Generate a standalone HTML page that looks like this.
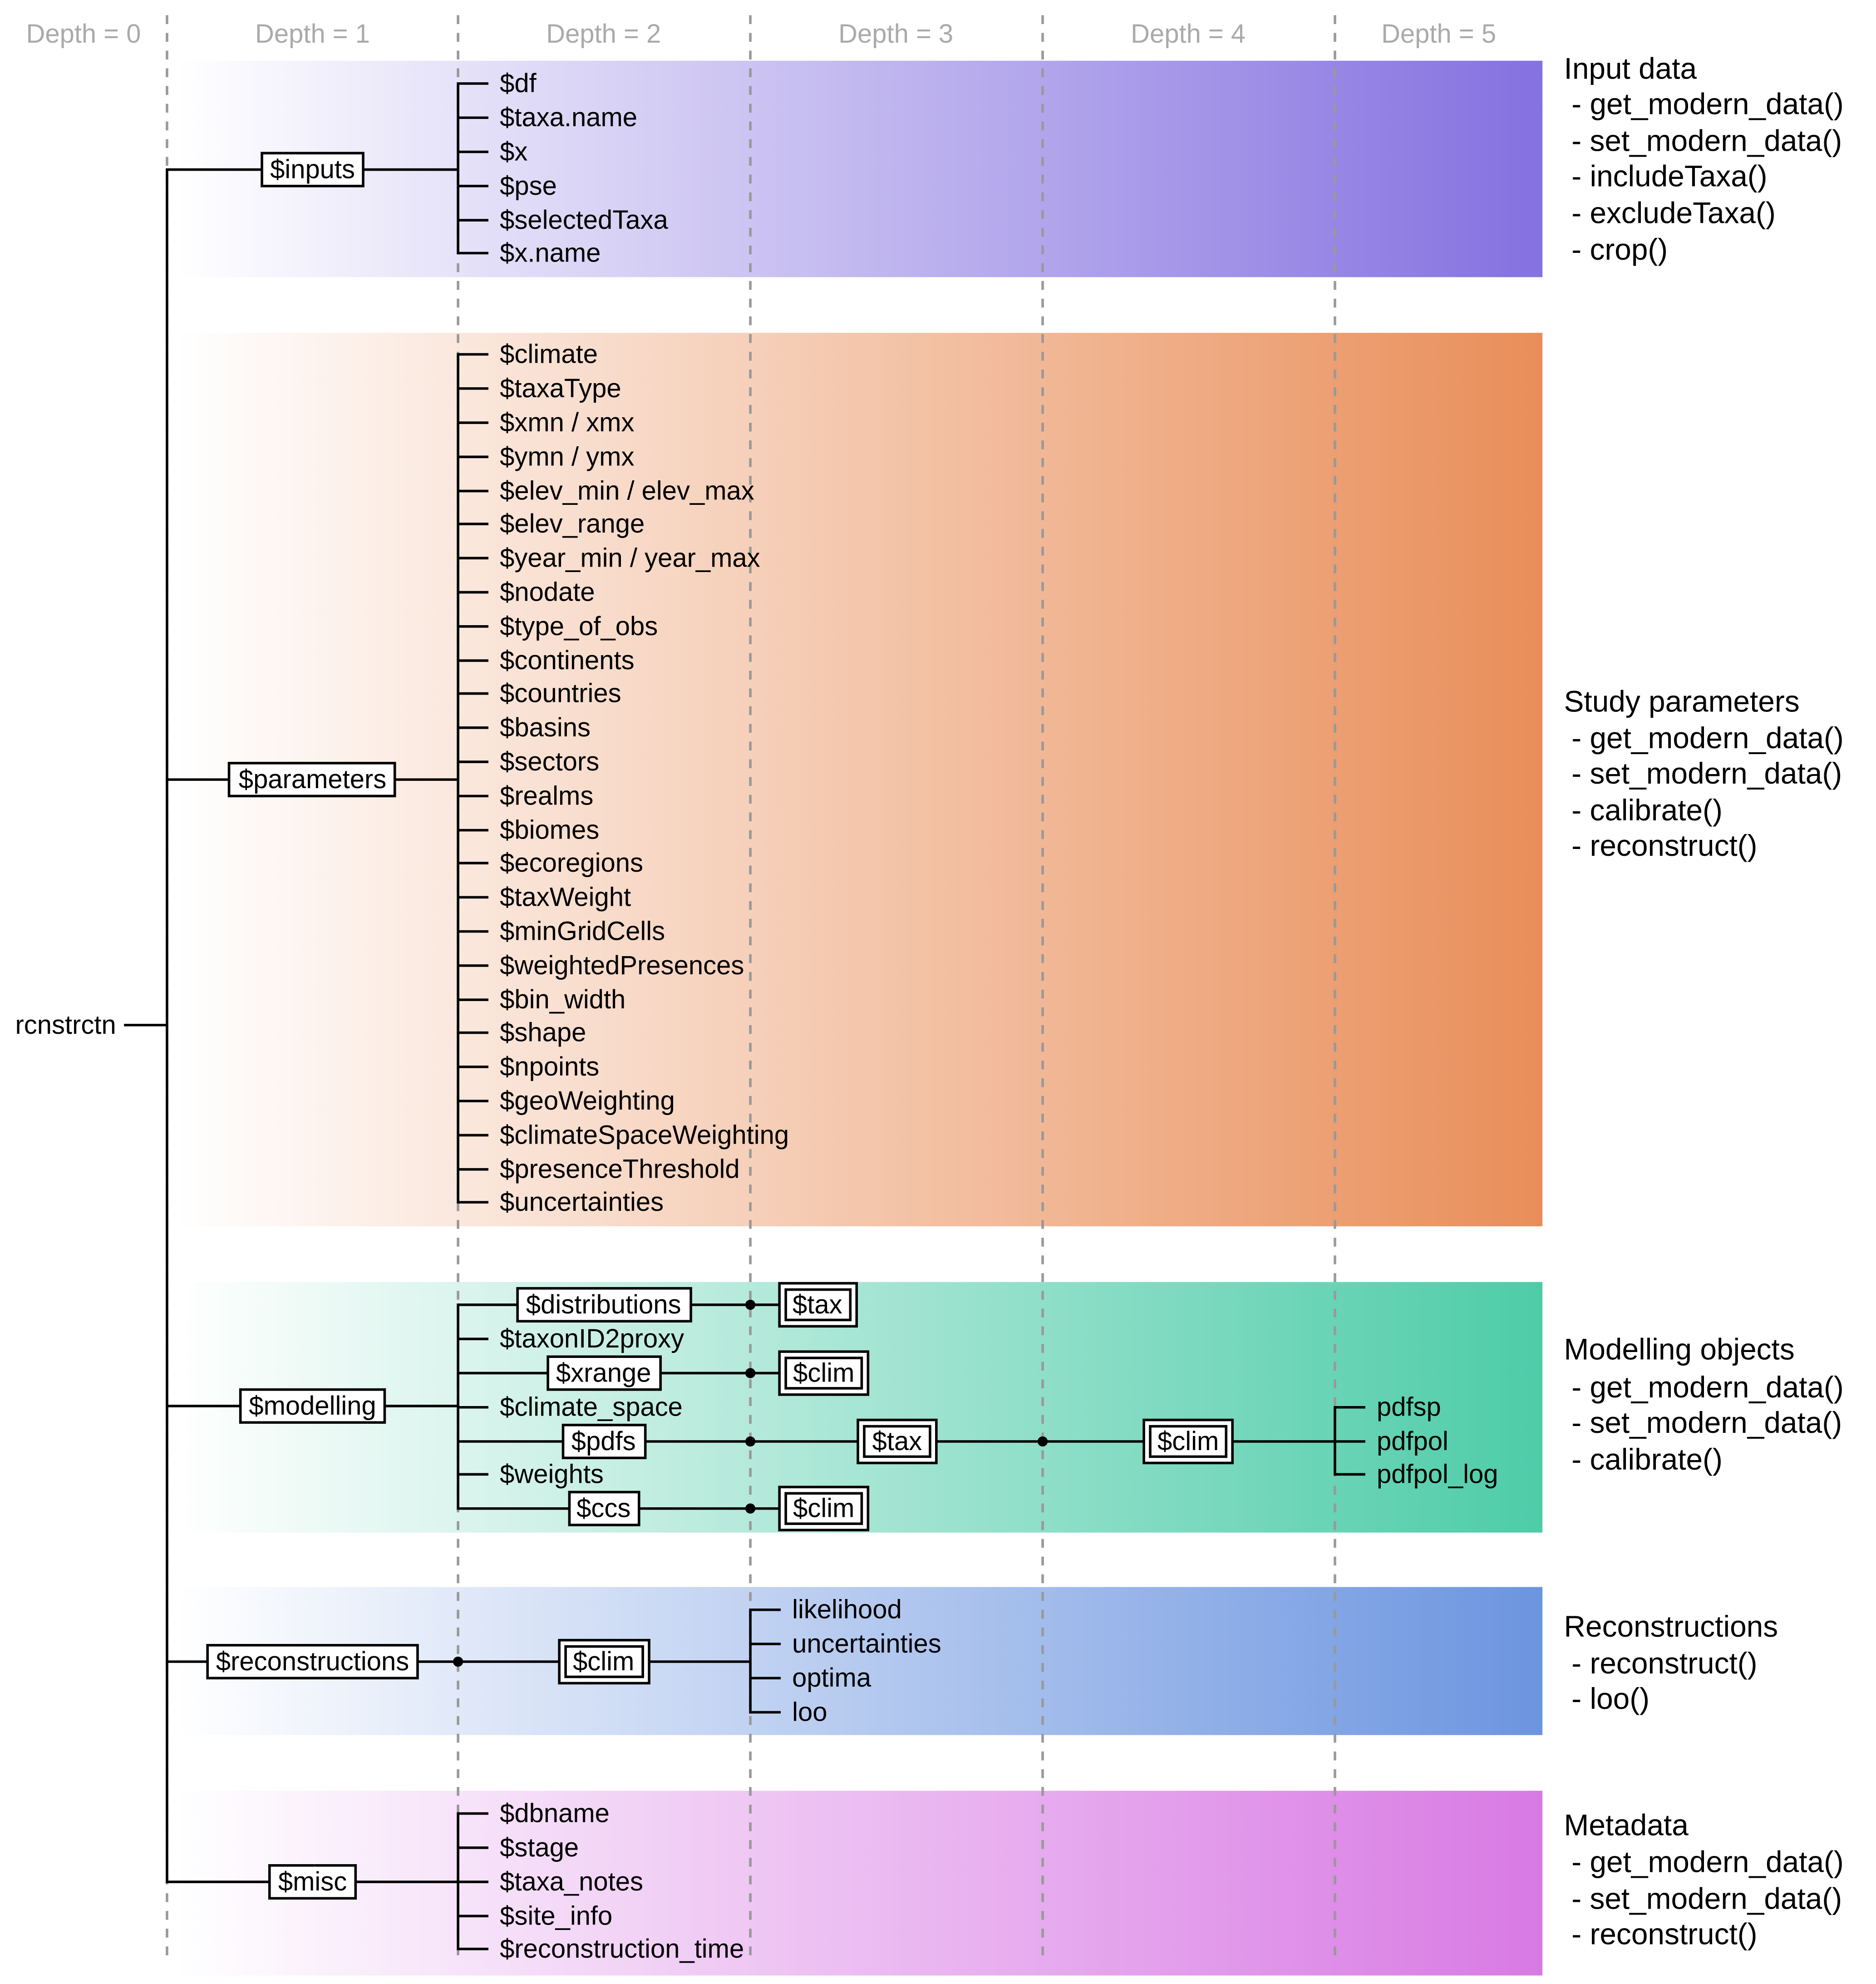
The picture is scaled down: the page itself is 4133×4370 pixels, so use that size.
<!DOCTYPE html>
<html><head><meta charset="utf-8"><style>html,body{margin:0;padding:0;background:#fff}svg{display:block}</style></head><body>
<svg width="4133" height="4370" viewBox="0 0 1482.6 1567.7" preserveAspectRatio="none" xmlns="http://www.w3.org/2000/svg" font-family="Liberation Sans, sans-serif">
<defs>
<linearGradient id="g1" x1="0" x2="1"><stop offset="0" stop-color="#8571e0" stop-opacity="0"/><stop offset="1" stop-color="#8571e0"/></linearGradient>
<linearGradient id="g2" x1="0" x2="1"><stop offset="0" stop-color="#e98e59" stop-opacity="0"/><stop offset="1" stop-color="#e98e59"/></linearGradient>
<linearGradient id="g3" x1="0" x2="1"><stop offset="0" stop-color="#4ecca8" stop-opacity="0"/><stop offset="1" stop-color="#4ecca8"/></linearGradient>
<linearGradient id="g4" x1="0" x2="1"><stop offset="0" stop-color="#6c95e0" stop-opacity="0"/><stop offset="1" stop-color="#6c95e0"/></linearGradient>
<linearGradient id="g5" x1="0" x2="1"><stop offset="0" stop-color="#d87ae4" stop-opacity="0"/><stop offset="1" stop-color="#d87ae4"/></linearGradient>
</defs>
<rect x="140" y="48" width="1079" height="171" fill="url(#g1)"/>
<rect x="140" y="263" width="1079" height="706" fill="url(#g2)"/>
<rect x="140" y="1013" width="1079" height="198" fill="url(#g3)"/>
<rect x="140" y="1254" width="1079" height="117" fill="url(#g4)"/>
<rect x="140" y="1415" width="1079" height="146" fill="url(#g5)"/>
<g stroke="#999" stroke-width="2" stroke-dasharray="7,7">
<line x1="132" y1="12" x2="132" y2="1552"/><line x1="362" y1="12" x2="362" y2="1552"/><line x1="593" y1="12" x2="593" y2="1552"/><line x1="824" y1="12" x2="824" y2="1552"/><line x1="1055" y1="12" x2="1055" y2="1552"/>
</g>
<g fill="#aaa" font-size="20.8" text-anchor="middle" dominant-baseline="central">
<text x="66" y="27">Depth = 0</text><text x="247" y="27">Depth = 1</text><text x="477" y="27">Depth = 2</text><text x="708" y="27">Depth = 3</text><text x="939" y="27">Depth = 4</text><text x="1137" y="27">Depth = 5</text>
</g>
<g stroke="#000" stroke-width="2" fill="none">
<line x1="132" y1="134" x2="132" y2="1488"/><line x1="98" y1="810" x2="132" y2="810"/>
<line x1="131" y1="134" x2="362" y2="134"/><line x1="131" y1="616" x2="362" y2="616"/><line x1="131" y1="1111" x2="362" y2="1111"/><line x1="131" y1="1313" x2="593" y2="1313"/><line x1="131" y1="1487" x2="362" y2="1487"/>
<line x1="362" y1="65" x2="362" y2="201"/><line x1="362" y1="279" x2="362" y2="951"/><line x1="362" y1="1030" x2="362" y2="1193"/><line x1="362" y1="1432" x2="362" y2="1541"/>
<line x1="593" y1="1271" x2="593" y2="1354"/>
<line x1="362" y1="1031" x2="616" y2="1031"/><line x1="362" y1="1085" x2="616" y2="1085"/><line x1="362" y1="1139" x2="1055" y2="1139"/><line x1="362" y1="1192" x2="616" y2="1192"/>
<line x1="1055" y1="1111" x2="1055" y2="1166"/>
<path d="M362 66h24M362 93h24M362 120h24M362 147h24M362 174h24M362 200h24
M362 280h24M362 307h24M362 334h24M362 361h24M362 388h24M362 414h24M362 441h24M362 468h24M362 495h24M362 522h24M362 548h24M362 575h24M362 602h24M362 629h24M362 656h24M362 682h24M362 709h24M362 736h24M362 763h24M362 790h24M362 816h24M362 843h24M362 870h24M362 897h24M362 924h24M362 950h24
M362 1058h24M362 1112h24M362 1165h24
M362 1433h24M362 1460h24M362 1487h24M362 1514h24M362 1540h24
M593 1272h24M593 1299h24M593 1326h24M593 1353h24
M1055 1112h24M1055 1139h24M1055 1165h24"/>
</g>
<g fill="#000"><circle cx="362" cy="1313" r="4"/><circle cx="593" cy="1031" r="4"/><circle cx="593" cy="1085" r="4"/><circle cx="593" cy="1139" r="4"/><circle cx="593" cy="1192" r="4"/><circle cx="824" cy="1139" r="4"/></g>
<g fill="#fff" stroke="#000" stroke-width="2">
<rect x="207" y="121" width="80" height="26"/><rect x="181" y="603" width="131" height="26"/><rect x="190" y="1098" width="114" height="26"/><rect x="164" y="1300" width="166" height="26"/><rect x="213" y="1474" width="68" height="26"/>
<rect x="409" y="1018" width="137" height="26"/><rect x="433" y="1072" width="89" height="26"/><rect x="445" y="1126" width="65" height="26"/><rect x="450" y="1179" width="55" height="26"/>
<rect x="616" y="1014" width="61" height="34"/><rect x="616" y="1068" width="70" height="34"/><rect x="616" y="1175" width="70" height="34"/><rect x="678" y="1122" width="62" height="34"/><rect x="904" y="1122" width="70" height="34"/><rect x="442" y="1296" width="71" height="34"/>
</g>
<g fill="none" stroke="#000" stroke-width="2">
<rect x="621" y="1019" width="51" height="24"/><rect x="621" y="1073" width="60" height="24"/><rect x="621" y="1180" width="60" height="24"/><rect x="683" y="1127" width="52" height="24"/><rect x="909" y="1127" width="60" height="24"/><rect x="447" y="1301" width="61" height="24"/>
</g>
<g font-size="20.8" fill="#000" dominant-baseline="central">
<text x="12" y="810">rcnstrctn</text>
<g text-anchor="middle">
<text x="247" y="134">$inputs</text><text x="247" y="616">$parameters</text><text x="247" y="1111">$modelling</text><text x="247" y="1313">$reconstructions</text><text x="247" y="1487">$misc</text>
<text x="477" y="1031">$distributions</text><text x="477" y="1085">$xrange</text><text x="477" y="1139">$pdfs</text><text x="477" y="1192">$ccs</text>
<text x="646" y="1031">$tax</text><text x="651" y="1085">$clim</text><text x="651" y="1192">$clim</text><text x="709" y="1139">$tax</text><text x="939" y="1139">$clim</text><text x="477" y="1313">$clim</text>
</g>
<g>
<text x="395" y="66">$df</text><text x="395" y="93">$taxa.name</text><text x="395" y="120">$x</text><text x="395" y="147">$pse</text><text x="395" y="174">$selectedTaxa</text><text x="395" y="200">$x.name</text>
<text x="395" y="280">$climate</text><text x="395" y="307">$taxaType</text><text x="395" y="334">$xmn / xmx</text><text x="395" y="361">$ymn / ymx</text><text x="395" y="388">$elev_min / elev_max</text><text x="395" y="414">$elev_range</text><text x="395" y="441">$year_min / year_max</text><text x="395" y="468">$nodate</text><text x="395" y="495">$type_of_obs</text><text x="395" y="522">$continents</text><text x="395" y="548">$countries</text><text x="395" y="575">$basins</text><text x="395" y="602">$sectors</text><text x="395" y="629">$realms</text><text x="395" y="656">$biomes</text><text x="395" y="682">$ecoregions</text><text x="395" y="709">$taxWeight</text><text x="395" y="736">$minGridCells</text><text x="395" y="763">$weightedPresences</text><text x="395" y="790">$bin_width</text><text x="395" y="816">$shape</text><text x="395" y="843">$npoints</text><text x="395" y="870">$geoWeighting</text><text x="395" y="897">$climateSpaceWeighting</text><text x="395" y="924">$presenceThreshold</text><text x="395" y="950">$uncertainties</text>
<text x="395" y="1058">$taxonID2proxy</text><text x="395" y="1112">$climate_space</text><text x="395" y="1165">$weights</text>
<text x="395" y="1433">$dbname</text><text x="395" y="1460">$stage</text><text x="395" y="1487">$taxa_notes</text><text x="395" y="1514">$site_info</text><text x="395" y="1540">$reconstruction_time</text>
<text x="626" y="1272">likelihood</text><text x="626" y="1299">uncertainties</text><text x="626" y="1326">optima</text><text x="626" y="1353">loo</text>
<text x="1088" y="1112">pdfsp</text><text x="1088" y="1139">pdfpol</text><text x="1088" y="1165">pdfpol_log</text>
</g>
</g>
<g font-size="23.6" fill="#000" dominant-baseline="central">
<text x="1236" y="54">Input data</text><text x="1242" y="82">- get_modern_data()</text><text x="1242" y="111">- set_modern_data()</text><text x="1242" y="139">- includeTaxa()</text><text x="1242" y="168">- excludeTaxa()</text><text x="1242" y="197">- crop()</text>
<text x="1236" y="554">Study parameters</text><text x="1242" y="583">- get_modern_data()</text><text x="1242" y="611">- set_modern_data()</text><text x="1242" y="640">- calibrate()</text><text x="1242" y="668">- reconstruct()</text>
<text x="1236" y="1066">Modelling objects</text><text x="1242" y="1096">- get_modern_data()</text><text x="1242" y="1124">- set_modern_data()</text><text x="1242" y="1153">- calibrate()</text>
<text x="1236" y="1285">Reconstructions</text><text x="1242" y="1314">- reconstruct()</text><text x="1242" y="1342">- loo()</text>
<text x="1236" y="1442">Metadata</text><text x="1242" y="1471">- get_modern_data()</text><text x="1242" y="1500">- set_modern_data()</text><text x="1242" y="1528">- reconstruct()</text>
</g>
</svg>
</body></html>
